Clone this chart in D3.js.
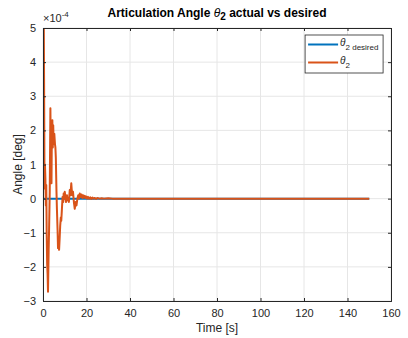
<!DOCTYPE html>
<html>
<head>
<meta charset="utf-8">
<script src="https://cdn.jsdelivr.net/npm/d3@7"></script>
<style>
  body { margin: 0; background: #fff; }
  text { font-family: "Liberation Sans", Arial, sans-serif; }
</style>
</head>
<body>
<div id="chart"></div>
<script>
// Data (angle values in units of 1e-4 deg)
const desiredTime = [0, 150];
const desiredAngle = [0, 0];

const actualTime = [0, 0.3, 0.5, 0.7, 0.9, 1.1, 1.3, 1.5, 1.7, 1.9, 2.1, 2.3, 2.6, 2.8, 3.1, 3.4, 3.6, 3.9, 4.1, 4.3, 4.5, 4.7, 4.9, 5.2, 5.5, 5.7, 5.9, 6.2, 6.4, 6.7, 6.9, 7.2, 7.4, 7.7, 7.9, 8.2, 8.4, 8.7, 9.0, 9.3, 9.5, 9.8, 10.0, 10.3, 10.6, 10.8, 11.0, 11.3, 11.5, 11.9, 12.3, 12.6, 13.0, 13.4, 13.8, 14.2, 14.6, 15.0, 15.4, 15.8, 16.2, 16.6, 16.9, 17.3, 17.7, 18.1, 18.4, 18.8, 19.2, 19.5, 19.9, 20.3, 20.7, 21.2, 21.7, 22.2, 22.7, 23.2, 23.8, 24.4, 25.0, 26.0, 27.0, 28.0, 30.0, 32.0, 35.0, 40.0, 60.0, 100.0, 150.0];
const actualAngle = [0, 6.0, 3.5, 0.3, 1.0, 0.6, -0.2, 0.4, -1.0, -1.9, -2.2, -2.73, -1.5, -0.9, 0.2, 2.65, 1.2, 0.45, 2.2, 2.3, 1.5, 2.15, 1.6, 1.9, 1.6, 1.5, 1.2, 0.2, -0.3, -0.92, -1.45, -1.3, -1.5, -1.1, -0.8, -0.55, -0.65, -0.3, 0.05, -0.1, 0.15, 0.0, 0.2, 0.05, -0.1, 0.05, 0.1, -0.05, 0.0, -0.1, 0.25, 0.1, 0.45, 0.1, 0.2, -0.1, -0.3, -0.1, -0.2, 0.0, 0.1, 0.0, 0.15, 0.05, 0.12, 0.02, 0.1, 0.03, 0.08, 0.02, 0.06, 0.0, 0.05, 0.0, 0.04, -0.01, 0.03, 0.0, 0.02, -0.01, 0.02, 0.0, 0.01, 0.0, 0.01, 0.0, 0.0, 0, 0, 0, 0];

const xTicks = [0, 20, 40, 60, 80, 100, 120, 140, 160];
const yTicks = [-3, -2, -1, 0, 1, 2, 3, 4, 5];

const width = 408, height = 338;
const margin = { top: 28, right: 17, bottom: 37, left: 43 };
const iw = width - margin.left - margin.right,
      ih = height - margin.top - margin.bottom;

const svg = d3.select("#chart")
  .append("svg")
    .attr("width", width)
    .attr("height", height);

const x = d3.scaleLinear().domain([0, 160]).range([0, iw]);
const y = d3.scaleLinear().domain([-3, 5]).range([ih, 0]);

const g = svg.append("g")
  .attr("transform", `translate(${margin.left},${margin.top})`);

// Grid
g.append("g").selectAll("line").data(xTicks).join("line")
  .attr("x1", d => x(d)).attr("x2", d => x(d))
  .attr("y1", 0).attr("y2", ih)
  .attr("stroke", "#e6e6e6").attr("stroke-width", 1);
g.append("g").selectAll("line").data(yTicks).join("line")
  .attr("x1", 0).attr("x2", iw)
  .attr("y1", d => y(d)).attr("y2", d => y(d))
  .attr("stroke", "#e6e6e6").attr("stroke-width", 1);

// Clip
svg.append("clipPath").attr("id", "clip")
  .append("rect").attr("width", iw).attr("height", ih);

const line = d3.line().x(d => x(d[0])).y(d => y(d[1]));

const plot = g.append("g").attr("clip-path", "url(#clip)");
plot.append("path")
  .datum(desiredTime.map((t, i) => [t, desiredAngle[i]]))
  .attr("d", line)
  .attr("fill", "none")
  .attr("stroke", "#0072BD")
  .attr("stroke-width", 2);
plot.append("path")
  .datum(actualTime.map((t, i) => [t, actualAngle[i]]))
  .attr("d", line)
  .attr("fill", "none")
  .attr("stroke", "#D95319")
  .attr("stroke-width", 2)
  .attr("stroke-linejoin", "round");

// Axes (MATLAB style, ticks inside, box)
const axColor = "#262626";
const xAxis = g.append("g")
  .attr("transform", `translate(0,${ih})`)
  .call(d3.axisBottom(x).tickValues(xTicks).tickSize(-3).tickPadding(8));
const xAxisTop = g.append("g")
  .call(d3.axisTop(x).tickValues(xTicks).tickSize(-3).tickFormat(""));
const yAxis = g.append("g")
  .call(d3.axisLeft(y).tickValues(yTicks).tickSize(-3).tickPadding(7));
const yAxisRight = g.append("g")
  .attr("transform", `translate(${iw},0)`)
  .call(d3.axisRight(y).tickValues(yTicks).tickSize(-3).tickFormat(""));

[xAxis, xAxisTop, yAxis, yAxisRight].forEach(a => {
  a.select(".domain").attr("stroke", axColor).attr("stroke-width", 1);
  a.selectAll(".tick line").attr("stroke", axColor);
  a.selectAll("text").attr("fill", axColor).attr("font-size", 11)
    .style("font-family", "Liberation Sans, Arial, sans-serif");
});

// Exponent label
const expo = svg.append("text")
  .attr("x", margin.left).attr("y", margin.top - 6)
  .attr("font-size", 11).attr("fill", axColor);
expo.append("tspan").text("\u00d710");
expo.append("tspan").attr("dy", -5).attr("font-size", 8).text("-4");

// Axis labels
svg.append("text")
  .attr("x", margin.left + iw / 2).attr("y", height - 6)
  .attr("text-anchor", "middle").attr("font-size", 12).attr("fill", axColor)
  .text("Time [s]");
svg.append("text")
  .attr("transform", `translate(22,${margin.top + ih / 2}) rotate(-90)`)
  .attr("text-anchor", "middle").attr("font-size", 12).attr("fill", axColor)
  .text("Angle [deg]");

// Title
const title = svg.append("text")
  .attr("x", margin.left + iw / 2).attr("y", 17)
  .attr("text-anchor", "middle").attr("font-size", 12)
  .attr("font-weight", "bold").attr("fill", "#000");
title.append("tspan").text("Articulation Angle ");
title.append("tspan").attr("font-style", "italic").attr("font-weight", "normal").text("\u03b8");
title.append("tspan").attr("dy", 3).attr("font-size", 10).text("2");
title.append("tspan").attr("dy", -3).text(" actual vs desired");

// Legend
const legend = g.append("g").attr("transform", `translate(${x(120.5)},7)`);
legend.append("rect")
  .attr("width", 78).attr("height", 38)
  .attr("fill", "#fff").attr("stroke", axColor).attr("stroke-width", 0.8);
const items = [
  { color: "#0072BD", sub: "2 desired" },
  { color: "#D95319", sub: "2" }
];
items.forEach((it, i) => {
  const yy = 9.5 + i * 18;
  legend.append("line")
    .attr("x1", 3).attr("x2", 33).attr("y1", yy).attr("y2", yy)
    .attr("stroke", it.color).attr("stroke-width", 2);
  const t = legend.append("text")
    .attr("x", 35).attr("y", yy + 1)
    .attr("font-size", 10).attr("fill", axColor);
  t.append("tspan").attr("font-style", "italic").text("\u03b8");
  t.append("tspan").attr("dy", 4).attr("font-size", 8).text(it.sub);
});
</script>
</body>
</html>
